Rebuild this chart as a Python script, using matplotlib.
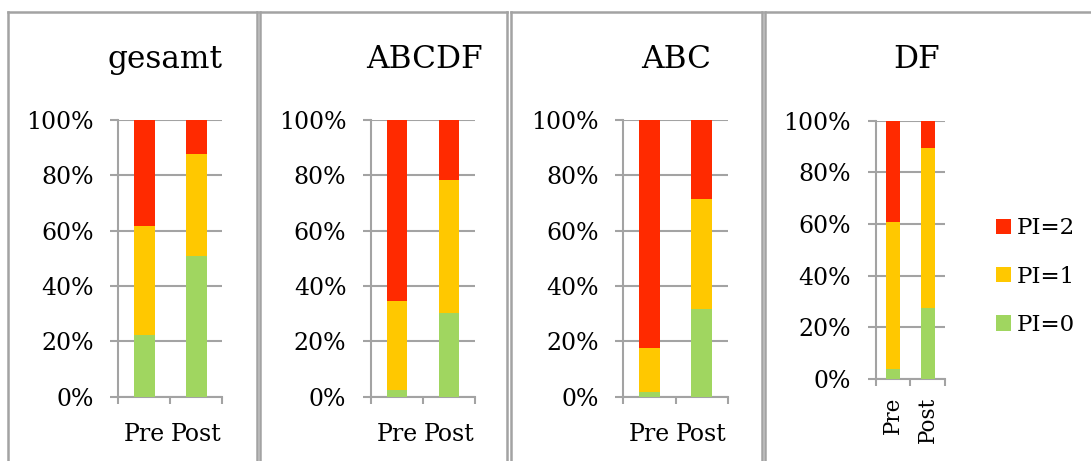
import matplotlib
matplotlib.use("Agg")
import matplotlib.pyplot as plt
from matplotlib.lines import Line2D
from matplotlib.ticker import FixedLocator

# Anteile je PI-Stufe (%) für Pre / Post
gruppen = ["gesamt", "ABCDF", "ABC", "DF"]
zeitpunkte = ["Pre", "Post"]
pi0 = {"gesamt": [22.4, 51.0], "ABCDF": [2.6, 30.1], "ABC": [1.8, 31.6], "DF": [3.7, 27.6]}
pi1 = {"gesamt": [39.3, 36.6], "ABCDF": [32.0, 48.2], "ABC": [15.7, 39.7], "DF": [57.0, 61.9]}
pi2 = {"gesamt": [38.3, 12.4], "ABCDF": [65.4, 21.7], "ABC": [82.5, 28.7], "DF": [39.3, 10.5]}
yticks = [0, 20, 40, 60, 80, 100]
ytick_labels = ["0%", "20%", "40%", "60%", "80%", "100%"]

farben = {"PI=0": "#a0d660", "PI=1": "#ffc800", "PI=2": "#ff2a00"}
grau = "#a3a3a3"

W, H = 1091, 461
plt.rcParams["font.family"] = ["DejaVu Serif"]
fig = plt.figure(figsize=(W / 100, H / 100), dpi=100)

# Plotbereiche in Pixeln: (links, rechts, oben, unten)
bereiche = {
    "gesamt": (118.3, 222.3, 120.0, 396.7),
    "ABCDF": (371.0, 475.0, 120.0, 396.7),
    "ABC": (623.3, 727.7, 120.0, 396.7),
    "DF": (875.7, 945.0, 120.7, 379.0),
}
titel_x = {"gesamt": 165, "ABCDF": 424, "ABC": 676, "DF": 917}
rahmen = [(8, 257), (260, 507), (511, 762), (765, 1095)]

# Rahmen um jedes Diagramm
for x0, x1 in rahmen:
    for xs, ys in [([x0, x1], [12, 12]), ([x0, x0], [12, H + 5]), ([x1, x1], [12, H + 5])]:
        fig.add_artist(Line2D([x / W for x in xs], [1 - y / H for y in ys],
                              color=grau, linewidth=1.8, transform=fig.transFigure))

handles = {}
for g in gruppen:
    l, r, t, b = bereiche[g]
    ax = fig.add_axes([l / W, 1 - b / H, (r - l) / W, (b - t) / H])
    x = [0, 1]
    ax.bar(x, pi0[g], width=0.4, color=farben["PI=0"], zorder=3, label="PI=0")
    ax.bar(x, pi1[g], width=0.4, bottom=pi0[g], color=farben["PI=1"], zorder=3, label="PI=1")
    unten = [a + c for a, c in zip(pi0[g], pi1[g])]
    ax.bar(x, pi2[g], width=0.4, bottom=unten, color=farben["PI=2"], zorder=3, label="PI=2")
    ax.set_xlim(-0.5, 1.5)
    ax.set_ylim(0, 100)
    ax.set_yticks(yticks)
    ax.set_yticklabels(ytick_labels)
    ax.yaxis.grid(True, color=grau, linewidth=1.5, zorder=0)
    ax.set_axisbelow(True)
    for s in ["top", "right"]:
        ax.spines[s].set_visible(False)
    for s in ["left", "bottom"]:
        ax.spines[s].set_color(grau)
        ax.spines[s].set_linewidth(1.5)
    ax.tick_params(axis="y", length=5.8, width=1.5, color=grau, pad=12, labelsize=17)
    # Striche an den Kategoriegrenzen, Beschriftung in der Mitte
    ax.xaxis.set_major_locator(FixedLocator([-0.5, 0.5, 1.5]))
    ax.xaxis.set_minor_locator(FixedLocator(x))
    ax.set_xticklabels([])
    ax.set_xticklabels(zeitpunkte, minor=True)
    ax.tick_params(axis="x", which="major", length=5, width=1.5, color=grau)
    if g == "DF":
        ax.tick_params(axis="x", which="minor", length=0, pad=13, labelsize=15.5,
                       labelrotation=90)
    else:
        ax.tick_params(axis="x", which="minor", length=0, pad=19, labelsize=17)
    fig.text(titel_x[g] / W, 1 - 68 / H, g, ha="center", va="baseline", fontsize=22.5)
    handles = ax.get_legend_handles_labels()

h, lab = handles
fig.legend(h[::-1], lab[::-1], loc="center left", bbox_to_anchor=(996 / W, 1 - 276.7 / H),
           frameon=False, fontsize=16.5, handlelength=0.65, handleheight=0.65,
           handletextpad=0.25, labelspacing=1.15, borderpad=0, borderaxespad=0)

fig.savefig("out.png", dpi=100)
